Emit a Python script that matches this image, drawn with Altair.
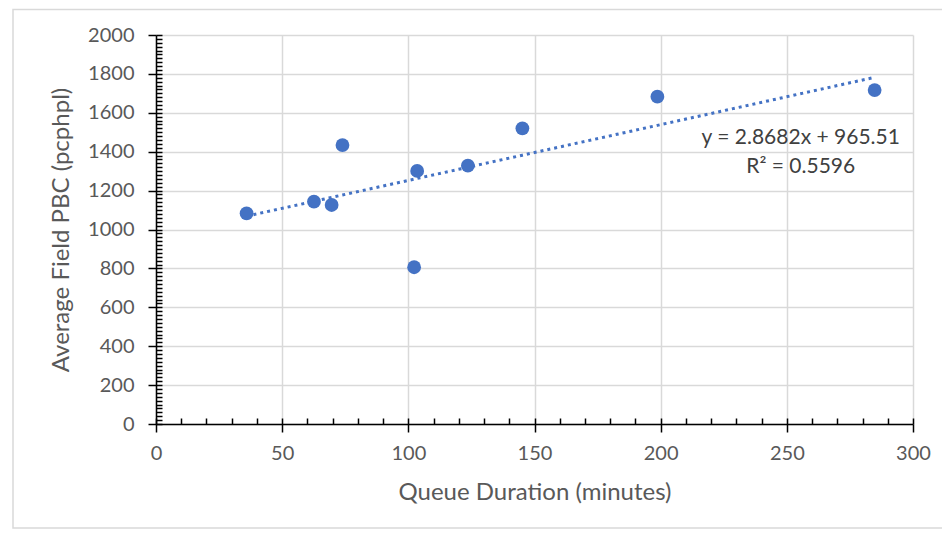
import altair as alt
import pandas as pd

# ---- data ----
queue_minutes = [35.9, 62.6, 69.6, 73.9, 102.3, 103.5, 123.6, 145.2, 198.7, 284.8]
field_pbc = [1083, 1143, 1126, 1434, 806, 1301, 1328, 1520, 1683, 1717]
trend_slope = 2.8682
trend_intercept = 965.51
equation_lines = ["y = 2.8682x + 965.51", "R\u00b2 = 0.5596"]
equation_x = [255.5, 255.5]
equation_y = [1441, 1292]
x_major = [0, 50, 100, 150, 200, 250, 300]
y_major = [0, 200, 400, 600, 800, 1000, 1200, 1400, 1600, 1800, 2000]
x_minor = list(range(0, 301, 10))
y_minor = list(range(0, 2001, 20))

FONT = "Lato"
TXT = "#595959"
BLUE = "#4472C4"

df = pd.DataFrame({"x": queue_minutes, "y": field_pbc})
eq_df = pd.DataFrame({"x": equation_x, "y": equation_y, "label": equation_lines})

xs = alt.Scale(domain=[0, 300], nice=False, zero=False)
ys = alt.Scale(domain=[0, 2000], nice=False, zero=False)

W, H = 757, 389
PAD_L, PAD_T = 148, 27
PAD_R = 934 - PAD_L - W
PAD_B = 522 - PAD_T - H

frame = alt.Chart(pd.DataFrame({"a": [0]})).mark_rect(
    fill=None, stroke="#d9d9d9", strokeWidth=1.5
).encode(
    x=alt.value(-143), x2=alt.value(789), y=alt.value(-25.5), y2=alt.value(H + PAD_B - 2)
)

major_axes = alt.Chart(df).mark_point(opacity=0).encode(
    x=alt.X("x:Q", scale=xs, axis=alt.Axis(
        orient="bottom", values=x_major, title="Queue Duration (minutes)", format="d",
        grid=True, gridColor="#d9d9d9", gridWidth=1.5,
        domainColor="black", domainWidth=1.5,
        tickColor="black", tickWidth=1.5, tickSize=8, labelFlush=False,
        labelFont=FONT, labelFontSize=20, labelColor=TXT, labelPadding=11,
        titleFont=FONT, titleFontSize=24, titleColor=TXT, titleFontWeight="normal",
        titlePadding=17,
    )),
    y=alt.Y("y:Q", scale=ys, axis=alt.Axis(
        orient="left", values=y_major, title="Average Field PBC (pcphpl)", format="d",
        grid=True, gridColor="#d9d9d9", gridWidth=1.5,
        domainColor="black", domainWidth=1.5,
        tickColor="black", tickWidth=1.5, tickSize=8, labelFlush=False,
        labelFont=FONT, labelFontSize=20, labelColor=TXT, labelPadding=14,
        titleFont=FONT, titleFontSize=24, titleColor=TXT, titleFontWeight="normal",
        titlePadding=14,
    )),
)

minor_axes = alt.Chart(df).mark_point(opacity=0).encode(
    x=alt.X("x:Q", scale=xs, axis=alt.Axis(
        orient="bottom", values=x_minor, title=None, labels=False, grid=False,
        domain=False, tickColor="black", tickWidth=1.5, tickSize=6, offset=-6,
    )),
    y=alt.Y("y:Q", scale=ys, axis=alt.Axis(
        orient="left", values=y_minor, title=None, labels=False, grid=False,
        domain=False, tickColor="black", tickWidth=1.5, tickSize=6, offset=-6,
    )),
)

trend = alt.Chart(df).transform_calculate(
    fit=f"{trend_slope} * datum.x + {trend_intercept}"
).mark_line(color=BLUE, strokeWidth=3, strokeDash=[3, 4]).encode(
    x=alt.X("x:Q", scale=xs, axis=None),
    y=alt.Y("fit:Q", scale=ys, axis=None),
)

points = alt.Chart(df).mark_circle(size=190, color=BLUE, opacity=1).encode(
    x=alt.X("x:Q", scale=xs, axis=None),
    y=alt.Y("y:Q", scale=ys, axis=None),
)

eq_text = alt.Chart(eq_df).mark_text(
    font=FONT, fontSize=21, color="#404040", align="center", baseline="alphabetic"
).encode(
    x=alt.X("x:Q", scale=xs, axis=None),
    y=alt.Y("y:Q", scale=ys, axis=None),
    text="label:N",
)

chart = alt.layer(frame, major_axes, minor_axes, trend, points, eq_text).resolve_axis(
    x="independent", y="independent"
).properties(
    width=W, height=H,
    autosize=alt.AutoSizeParams(type="none"),
    padding={"left": PAD_L, "top": PAD_T, "right": PAD_R, "bottom": PAD_B},
).configure_view(strokeWidth=0)

chart.save("out.html", embed_options={"renderer": "svg", "actions": False})
